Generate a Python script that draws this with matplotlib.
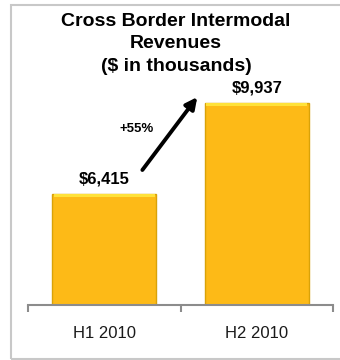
import matplotlib
matplotlib.use("Agg")
import matplotlib.pyplot as plt
from matplotlib.patches import Rectangle

plt.rcParams['font.family'] = ['Liberation Sans', 'DejaVu Sans']

# data
periods = ['H1 2010', 'H2 2010']
revenues = [6415, 9937]
value_labels = ['$6,415', '$9,937']
growth_label = '+55%'
title = 'Cross Border Intermodal\nRevenues\n($ in thousands)'

bar_color = '#FDBA17'
edge_color = '#D9A208'
top_color = '#FFE23A'

fig = plt.figure(figsize=(3.4, 3.6), dpi=100)

# light frame around the panel (right side runs off the edge)
fig.patches.append(Rectangle((11 / 340, 1 / 360), 1.2, 354 / 360, transform=fig.transFigure,
                             fill=False, edgecolor='#C8C8C8', linewidth=1.5))

ax = fig.add_axes([28 / 340, 55 / 360, 305 / 340, 285 / 360])
x = range(len(periods))
ax.bar(x, revenues, width=0.68, color=bar_color, edgecolor=edge_color, linewidth=1.0, zorder=2)
# highlight strip at the top of each bar
for i, v in enumerate(revenues):
    ax.bar(i, 130, bottom=v - 130, width=0.66, color=top_color, linewidth=0, zorder=3)

ax.set_xlim(-0.5, 1.5)
ax.set_ylim(2120, 13150)
ax.set_yticks([])
for s in ['top', 'right', 'left']:
    ax.spines[s].set_visible(False)
ax.spines['bottom'].set_color('#8C8C8C')
ax.spines['bottom'].set_linewidth(1.5)
ax.spines['bottom'].set_zorder(4)
ax.set_xticks([-0.5, 0.5, 1.5], minor=True)
ax.set_xticks(list(x))
ax.set_xticklabels(periods, fontsize=12, color='#1A1A1A')
ax.tick_params(axis='x', which='major', length=0, pad=15)
ax.tick_params(axis='x', which='minor', length=5, width=1.5, color='#8C8C8C')

for i, (v, lab) in enumerate(zip(revenues, value_labels)):
    ax.text(i, v + 600, lab, ha='center', va='center', fontsize=12, fontweight='bold')

ax.annotate('', xy=(0.61, revenues[1] + 230), xytext=(0.25, revenues[0] + 930),
            arrowprops=dict(arrowstyle='-|>', color='black', lw=2.8, mutation_scale=17,
                            shrinkA=0, shrinkB=0))
ax.text(0.21, 8930, growth_label, ha='center', va='center', fontsize=9.5, fontweight='bold')

fig.text(176 / 340, 1 - 13 / 360, title, ha='center', va='top', fontsize=14,
         fontweight='bold', linespacing=1.42)

fig.savefig('out.png', dpi=100)
